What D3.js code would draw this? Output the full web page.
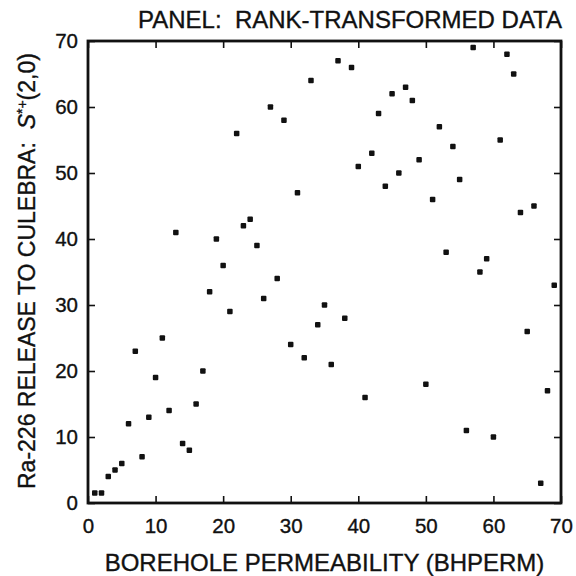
<!DOCTYPE html>
<html>
<head>
<meta charset="utf-8">
<script src="https://cdn.jsdelivr.net/npm/d3@7"></script>
<style>
  body { margin: 0; background: #fff; }
  svg text { font-family: "Liberation Sans", Arial, Helvetica, sans-serif; fill: #111; white-space: pre; stroke: #111; stroke-width: 0.35px; }
</style>
</head>
<body>
<div id="chart"></div>
<script>
// Rank of borehole permeability (x) and rank of Ra-226 release (y)
const bhperm = [1, 2, 3, 4, 5, 6, 7, 8, 9, 10, 11, 12, 13, 14, 15, 16, 17, 18, 19, 20,
  21, 22, 23, 24, 25, 26, 27, 28, 29, 30, 31, 32, 33, 34, 35, 36, 37, 38, 39, 40,
  41, 42, 43, 44, 45, 46, 47, 48, 49, 50, 51, 52, 53, 54, 55, 56, 57, 58, 59, 60,
  61, 62, 63, 64, 65, 66, 67, 68, 69];
const release = [1.5, 1.5, 4, 5, 6, 12, 23, 7, 13, 19, 25, 14, 41, 9, 8, 15, 20, 32, 40, 36,
  29, 56, 42, 43, 39, 31, 60, 34, 58, 24, 47, 22, 64, 27, 30, 21, 67, 28, 66, 51,
  16, 53, 59, 48, 62, 50, 63, 61, 52, 18, 46, 57, 38, 54, 49, 11, 69, 35, 37, 10,
  55, 68, 65, 44, 26, 45, 3, 17, 33];
const tickValues = [0, 10, 20, 30, 40, 50, 60, 70];

const width = 576, height = 576;
const margin = { top: 41, right: 15, bottom: 73, left: 88 };

const svg = d3.select("#chart").append("svg")
  .attr("width", width)
  .attr("height", height);

const x = d3.scaleLinear().domain([0, 70]).range([margin.left, width - margin.right]);
const y = d3.scaleLinear().domain([0, 70]).range([height - margin.bottom, margin.top]);

const tickLen = 7;
const axisFont = "20.5px";

// Bottom axis with labels, inward ticks
svg.append("g")
  .attr("transform", `translate(0,${height - margin.bottom})`)
  .call(d3.axisBottom(x).tickValues(tickValues).tickSizeInner(-tickLen).tickSizeOuter(0).tickPadding(15))
  .call(g => g.select(".domain").remove())
  .call(g => g.selectAll("line").attr("stroke", "#111").attr("stroke-width", 1.6))
  .call(g => g.selectAll("text").style("font-size", axisFont).attr("fill", "#111"));

// Left axis with labels
svg.append("g")
  .attr("transform", `translate(${margin.left},0)`)
  .call(d3.axisLeft(y).tickValues(tickValues).tickSizeInner(-tickLen).tickSizeOuter(0).tickPadding(10))
  .call(g => g.select(".domain").remove())
  .call(g => g.selectAll("line").attr("stroke", "#111").attr("stroke-width", 1.6))
  .call(g => g.selectAll("text").style("font-size", axisFont).attr("fill", "#111"));

// Top and right: ticks only
svg.append("g")
  .attr("transform", `translate(0,${margin.top})`)
  .call(d3.axisTop(x).tickValues(tickValues).tickSizeInner(-tickLen).tickSizeOuter(0).tickFormat(""))
  .call(g => g.select(".domain").remove())
  .call(g => g.selectAll("line").attr("stroke", "#111").attr("stroke-width", 1.6));

svg.append("g")
  .attr("transform", `translate(${width - margin.right},0)`)
  .call(d3.axisRight(y).tickValues(tickValues).tickSizeInner(-tickLen).tickSizeOuter(0).tickFormat(""))
  .call(g => g.select(".domain").remove())
  .call(g => g.selectAll("line").attr("stroke", "#111").attr("stroke-width", 1.6));

// Frame
svg.append("rect")
  .attr("x", x(0)).attr("y", y(70))
  .attr("width", x(70) - x(0)).attr("height", y(0) - y(70))
  .attr("fill", "none").attr("stroke", "#111").attr("stroke-width", 2.8);

// Points (small squares)
const s = 5.5;
svg.append("g").selectAll("rect")
  .data(bhperm.map((d, i) => [d, release[i]]))
  .enter().append("rect")
  .attr("x", d => x(d[0]) - s / 2)
  .attr("y", d => y(d[1]) - s / 2)
  .attr("width", s).attr("height", s)
  .attr("rx", 1)
  .attr("fill", "#111");

// Title
svg.append("text")
  .attr("x", 562).attr("y", 28)
  .attr("text-anchor", "end")
  .style("font-size", "24px")
  .text("PANEL:  RANK-TRANSFORMED DATA");

// X axis title
svg.append("text")
  .attr("x", (x(0) + x(70)) / 2).attr("y", 571)
  .attr("text-anchor", "middle")
  .style("font-size", "24px")
  .text("BOREHOLE PERMEABILITY (BHPERM)");

// Y axis title
const yt = svg.append("text")
  .attr("transform", "translate(35,489) rotate(-90)")
  .attr("text-anchor", "start")
  .style("font-size", "23px");
yt.append("tspan").text("Ra-226 RELEASE TO CULEBRA:  ");
yt.append("tspan").style("font-style", "italic").text("S");
yt.append("tspan").attr("dy", -8).style("font-size", "14px").text("*+");
yt.append("tspan").attr("dy", 8).text("(2,0)");
</script>
</body>
</html>
